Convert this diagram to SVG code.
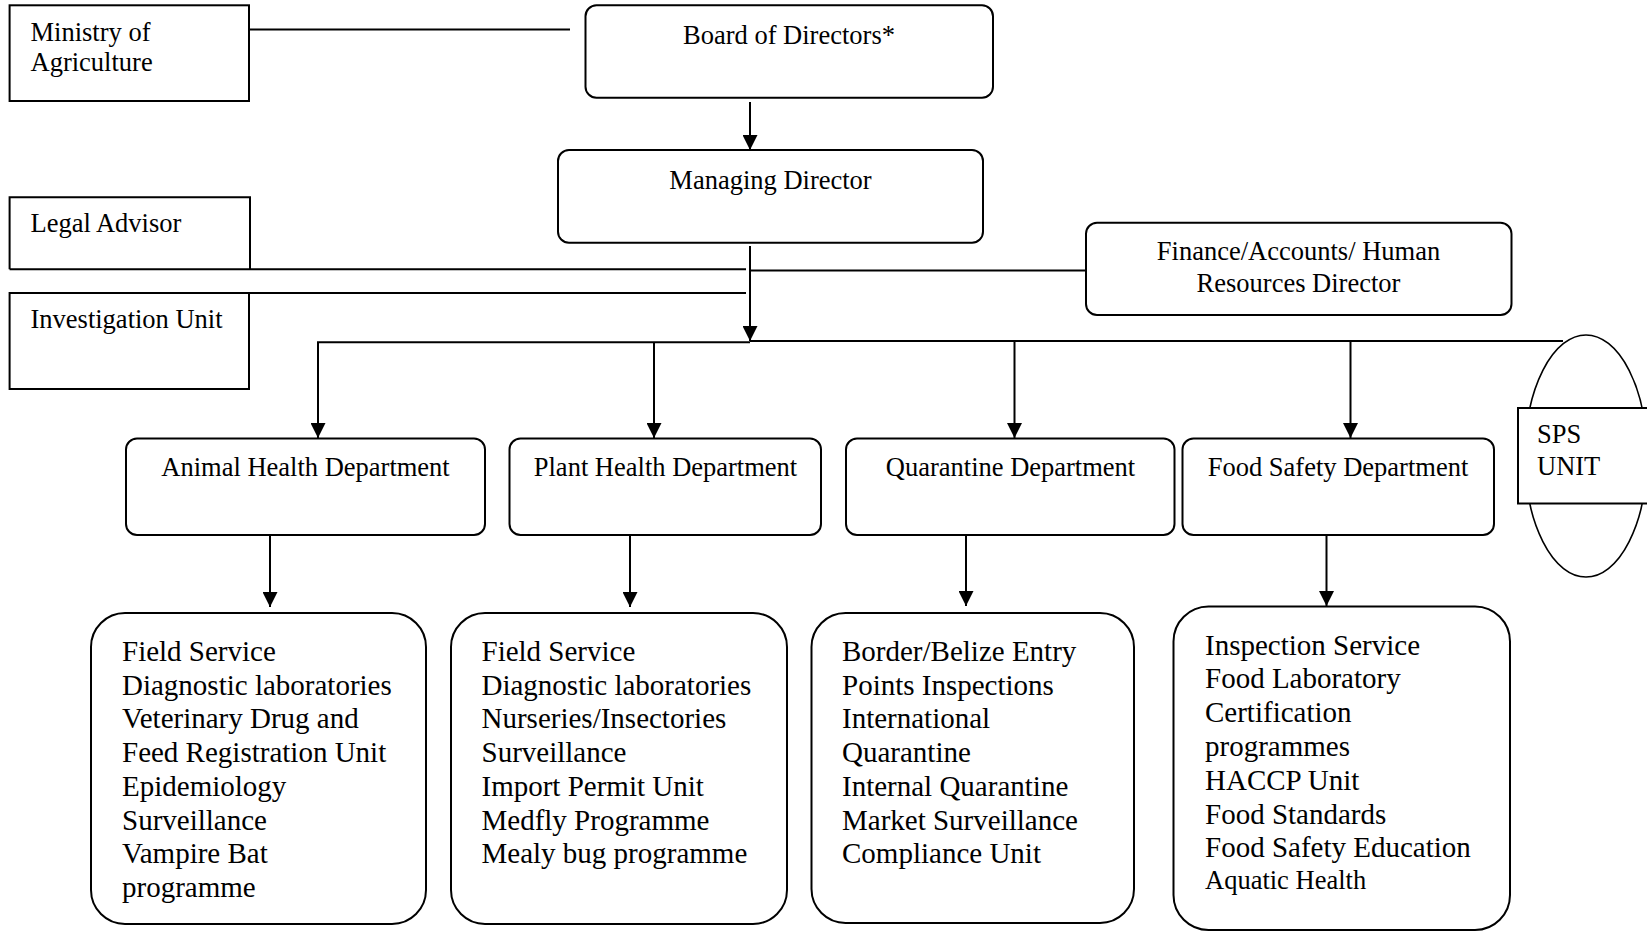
<svg xmlns="http://www.w3.org/2000/svg" width="1647" height="932" viewBox="0 0 1647 932">
<style>
  .box { fill: #fff; stroke: #000; stroke-width: 2; }
  .ln { fill: none; stroke: #000; stroke-width: 2; }
  .t { font-family: "Liberation Serif", "Times New Roman", serif; font-size: 26.5px; fill: #000; }
  .l { font-family: "Liberation Serif", "Times New Roman", serif; font-size: 29px; fill: #000; }
  .c { text-anchor: middle; }
</style>
<defs>
  <marker id="arr" markerUnits="userSpaceOnUse" markerWidth="15" markerHeight="15" refX="15" refY="7.5" orient="auto">
    <path d="M0,0 L15,7.5 L0,15 z" fill="#000"/>
  </marker>
</defs>
<rect width="1647" height="932" fill="#fff"/>

<g id="connectors">
  <line class="ln" x1="249" y1="29.5" x2="570" y2="29.5"/>
  <line class="ln" x1="750" y1="102" x2="750" y2="150" marker-end="url(#arr)"/>
  <line class="ln" x1="750" y1="246" x2="750" y2="341" marker-end="url(#arr)"/>
  <line class="ln" x1="9.6" y1="269.3" x2="746" y2="269.3"/>
  <line class="ln" x1="750" y1="270.5" x2="1086" y2="270.5"/>
  <line class="ln" x1="234" y1="293" x2="746" y2="293"/>
  <line class="ln" x1="317" y1="342.3" x2="750" y2="342.3"/>
  <line class="ln" x1="750" y1="341" x2="1563" y2="341"/>
  <line class="ln" x1="318" y1="342" x2="318" y2="438" marker-end="url(#arr)"/>
  <line class="ln" x1="654" y1="342" x2="654" y2="438" marker-end="url(#arr)"/>
  <line class="ln" x1="1014.5" y1="341" x2="1014.5" y2="438" marker-end="url(#arr)"/>
  <line class="ln" x1="1350.5" y1="341" x2="1350.5" y2="438" marker-end="url(#arr)"/>
  <line class="ln" x1="270" y1="535" x2="270" y2="607" marker-end="url(#arr)"/>
  <line class="ln" x1="630" y1="535" x2="630" y2="607" marker-end="url(#arr)"/>
  <line class="ln" x1="966" y1="535" x2="966" y2="606" marker-end="url(#arr)"/>
  <line class="ln" x1="1326.5" y1="535" x2="1326.5" y2="606" marker-end="url(#arr)"/>
</g>

<g id="ministry">
  <rect class="box" x="9.6" y="5.3" width="239.4" height="95.7"/>
  <text class="t" x="30.5" y="41">Ministry of</text>
  <text class="t" x="30.5" y="71">Agriculture</text>
</g>

<g id="board">
  <rect class="box" x="585.5" y="5.3" width="407.5" height="92.5" rx="11"/>
  <text class="t c" x="789" y="43.5">Board of Directors*</text>
</g>

<g id="managing-director">
  <rect class="box" x="558" y="150" width="425" height="92.7" rx="11"/>
  <text class="t c" x="770.5" y="188.5">Managing Director</text>
</g>

<g id="legal-advisor">
  <path class="ln" d="M9.6,269.3 V197.3 H250 V269.3"/>
  <text class="t" x="30.5" y="232">Legal Advisor</text>
</g>

<g id="investigation-unit">
  <rect class="box" x="9.6" y="293" width="239.4" height="96"/>
  <text class="t" x="30.5" y="328">Investigation Unit</text>
</g>

<g id="finance">
  <rect class="box" x="1086" y="222.7" width="425.5" height="92.3" rx="11"/>
  <text class="t c" x="1298.5" y="260">Finance/Accounts/ Human</text>
  <text class="t c" x="1298.5" y="292">Resources Director</text>
</g>

<g id="sps-unit">
  <ellipse cx="1586" cy="456" rx="61" ry="121" fill="#fff" stroke="#000" stroke-width="1.6"/>
  <rect class="box" x="1518" y="408" width="140" height="95.5"/>
  <text class="t" x="1537" y="443">SPS</text>
  <text class="t" x="1537" y="475">UNIT</text>
</g>

<g id="animal-health">
  <rect class="box" x="126" y="438.5" width="359" height="96.5" rx="11"/>
  <text class="t c" x="305.5" y="476">Animal Health Department</text>
</g>

<g id="plant-health">
  <rect class="box" x="509.5" y="438.5" width="311.5" height="96.5" rx="11"/>
  <text class="t c" x="665.5" y="476">Plant Health Department</text>
</g>

<g id="quarantine">
  <rect class="box" x="846" y="438.5" width="328.5" height="96.5" rx="11"/>
  <text class="t c" x="1010.5" y="476">Quarantine Department</text>
</g>

<g id="food-safety">
  <rect class="box" x="1182.5" y="438.5" width="311.5" height="96.5" rx="11"/>
  <text class="t c" x="1338" y="476">Food Safety Department</text>
</g>

<g id="animal-list">
  <rect class="box" x="91" y="613" width="335" height="311" rx="34"/>
  <text class="l" x="122" y="661">Field Service</text>
  <text class="l" x="122" y="694.7">Diagnostic laboratories</text>
  <text class="l" x="122" y="728.4">Veterinary Drug and</text>
  <text class="l" x="122" y="762.1">Feed Registration Unit</text>
  <text class="l" x="122" y="795.8">Epidemiology</text>
  <text class="l" x="122" y="829.5">Surveillance</text>
  <text class="l" x="122" y="863.2">Vampire Bat</text>
  <text class="l" x="122" y="896.9">programme</text>
</g>

<g id="plant-list">
  <rect class="box" x="451" y="613" width="336" height="311" rx="34"/>
  <text class="l" x="481.5" y="661">Field Service</text>
  <text class="l" x="481.5" y="694.7">Diagnostic laboratories</text>
  <text class="l" x="481.5" y="728.4">Nurseries/Insectories</text>
  <text class="l" x="481.5" y="762.1">Surveillance</text>
  <text class="l" x="481.5" y="795.8">Import Permit Unit</text>
  <text class="l" x="481.5" y="829.5">Medfly Programme</text>
  <text class="l" x="481.5" y="863.2">Mealy bug programme</text>
</g>

<g id="quarantine-list">
  <rect class="box" x="811.5" y="613" width="322.5" height="310" rx="34"/>
  <text class="l" x="842" y="661">Border/Belize Entry</text>
  <text class="l" x="842" y="694.7">Points Inspections</text>
  <text class="l" x="842" y="728.4">International</text>
  <text class="l" x="842" y="762.1">Quarantine</text>
  <text class="l" x="842" y="795.8">Internal Quarantine</text>
  <text class="l" x="842" y="829.5">Market Surveillance</text>
  <text class="l" x="842" y="863.2">Compliance Unit</text>
</g>

<g id="food-list">
  <rect class="box" x="1173.5" y="606.5" width="336.5" height="323.5" rx="35"/>
  <text class="l" x="1205" y="654.5">Inspection Service</text>
  <text class="l" x="1205" y="688.3">Food Laboratory</text>
  <text class="l" x="1205" y="722.1">Certification</text>
  <text class="l" x="1205" y="755.9">programmes</text>
  <text class="l" x="1205" y="789.7">HACCP Unit</text>
  <text class="l" x="1205" y="823.5">Food Standards</text>
  <text class="l" x="1205" y="857">Food Safety Education</text>
  <text class="t" x="1205" y="888.5">Aquatic Health</text>
</g>
</svg>
